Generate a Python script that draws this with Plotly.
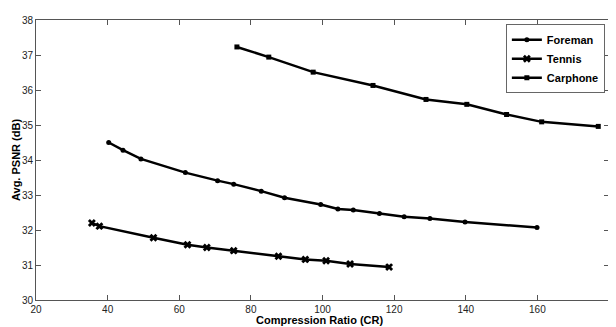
import plotly.graph_objects as go

foreman_x = [40.3, 44.3, 49.3, 61.7, 70.7, 75.2, 82.9, 89.4, 99.5, 104.3, 108.6, 115.9, 122.8, 130.0, 139.8, 159.9]
foreman_y = [34.50, 34.28, 34.03, 33.64, 33.41, 33.31, 33.11, 32.92, 32.73, 32.60, 32.57, 32.47, 32.38, 32.33, 32.23, 32.07]

tennis_x = [35.6, 37.7, 52.8, 62.3, 67.7, 75.2, 87.7, 95.2, 101.0, 107.7, 118.6]
tennis_y = [32.20, 32.11, 31.78, 31.58, 31.50, 31.41, 31.25, 31.16, 31.12, 31.03, 30.94]

carphone_x = [76.1, 85.0, 97.4, 114.1, 128.9, 140.3, 151.4, 161.2, 177.0]
carphone_y = [37.23, 36.94, 36.51, 36.13, 35.73, 35.59, 35.30, 35.09, 34.96]

x_ticks = [20, 40, 60, 80, 100, 120, 140, 160, 180]
y_ticks = [30, 31, 32, 33, 34, 35, 36, 37, 38]

FONT = "Liberation Sans, Arial"

fig = go.Figure()
fig.add_trace(go.Scatter(x=foreman_x, y=foreman_y, name="Foreman", mode="lines+markers",
                         line=dict(color="black", width=2.5),
                         marker=dict(symbol="circle", size=5, color="black")))
fig.add_trace(go.Scatter(x=tennis_x, y=tennis_y, name="Tennis", mode="lines+markers",
                         line=dict(color="black", width=2.5),
                         marker=dict(symbol="x", size=7, color="black")))
fig.add_trace(go.Scatter(x=carphone_x, y=carphone_y, name="Carphone", mode="lines+markers",
                         line=dict(color="black", width=2.5),
                         marker=dict(symbol="square", size=5, color="black")))

axis_common = dict(showline=True, linecolor="#555555", linewidth=1, mirror="allticks",
                   ticks="inside", ticklen=5, tickcolor="#555555", showgrid=False, zeroline=False,
                   tickfont=dict(family=FONT, size=10, color="#222222"))

# page body has an 8px default margin, so the figure is sized/offset to compensate
fig.update_layout(
    width=608, height=319,
    margin=dict(l=28, r=7, t=6, b=27),
    paper_bgcolor="white", plot_bgcolor="white",
    showlegend=True,
    legend=dict(x=0.82, y=0.985, xanchor="left", yanchor="top",
                bordercolor="#666666", borderwidth=1, bgcolor="white",
                font=dict(family=FONT, size=11, color="black", weight="bold"),
                itemwidth=30, tracegroupgap=0),
    xaxis=dict(range=[20, 180], tickvals=x_ticks, **axis_common),
    yaxis=dict(range=[30, 38], tickvals=y_ticks, **axis_common),
    annotations=[
        dict(text="<b>Compression Ratio (CR)</b>", xref="paper", yref="paper",
             x=0.495, y=0, yshift=-20, xanchor="center", yanchor="middle", showarrow=False,
             font=dict(family=FONT, size=11, color="black")),
        dict(text="<b>Avg. PSNR (dB)</b>", xref="paper", yref="paper",
             x=0, y=0.5, xshift=-20, xanchor="center", yanchor="middle", showarrow=False,
             textangle=-90, font=dict(family=FONT, size=11, color="black")),
    ],
)

fig.write_html("out.html")
